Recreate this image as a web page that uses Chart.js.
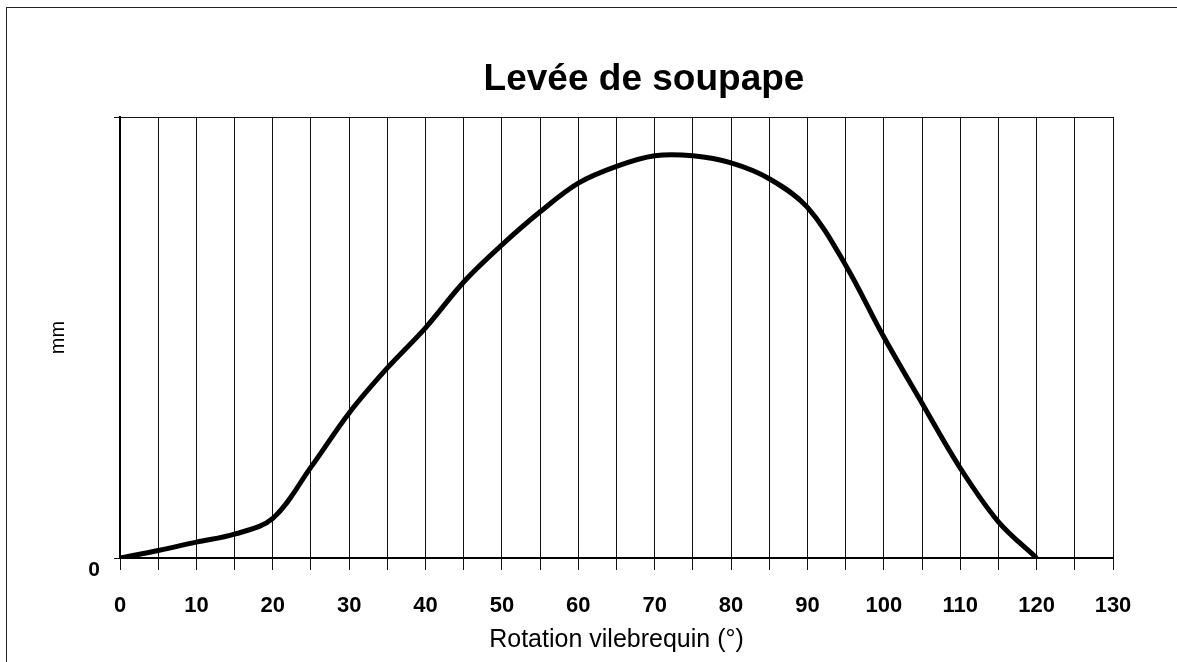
<!DOCTYPE html>
<html>
<head>
<meta charset="utf-8">
<script src="https://cdn.jsdelivr.net/npm/chart.js@4/dist/chart.umd.min.js"></script>
<style>
  html, body { margin: 0; padding: 0; background: #fff; }
  #wrap { position: relative; width: 1177px; height: 662px; }
  #frame {
    position: absolute; left: 6px; top: 7px; right: -10px; bottom: -10px;
    border-left: 1px solid #222; border-top: 1px solid #222; pointer-events: none;
  }
</style>
</head>
<body>
<div id="wrap">
  <canvas id="chart-lift" width="1177" height="662"></canvas>
  <div id="frame"></div>
</div>
<script>
// Rotation vilebrequin (deg) and valve lift (arbitrary mm scale)
const angles = [0, 5, 10, 15, 20, 25, 30, 35, 40, 45, 50, 55, 60, 65, 70, 75, 80, 85, 90, 95, 100, 105, 110, 115, 120]
const lift = [0, 0.17, 0.36, 0.54, 0.9, 2.06, 3.29, 4.31, 5.22, 6.26, 7.1, 7.85, 8.5, 8.88, 9.12, 9.12, 8.96, 8.6, 7.95, 6.64, 5.01, 3.51, 2.04, 0.82, 0]
const xLabels = [0, 10, 20, 30, 40, 50, 60, 70, 80, 90, 100, 110, 120, 130]

const chartTitle = 'Levée de soupape'
const fontFamily = '"Liberation Sans", Arial, sans-serif'

// title sits a bit right of the plot centre, like the original
const titlePlugin = {
  id: 'offsetTitle',
  afterDraw(chart) {
    const ctx = chart.ctx
    ctx.save()
    ctx.font = `bold 37px ${fontFamily}`
    ctx.fillStyle = '#000'
    ctx.textAlign = 'center'
    ctx.textBaseline = 'middle'
    ctx.fillText(chartTitle, 644, 80)
    ctx.restore()
  },
}

new Chart(document.getElementById('chart-lift'), {
  type: 'line',
  data: {
    datasets: [
      {
        label: 'Levée',
        data: angles.map((a, i) => ({ x: a, y: lift[i] })),
        borderColor: '#000',
        borderWidth: 5,
        pointRadius: 0,
        tension: 0.35,
        fill: false,
      },
    ],
  },
  options: {
    responsive: false,
    animation: false,
    layout: { padding: { left: 0, top: 117, right: 64, bottom: 0 } },
    plugins: {
      legend: { display: false },
      tooltip: { enabled: false },
    },
    scales: {
      x: {
        type: 'linear',
        min: 0,
        max: 130,
        afterFit: (scale) => { scale.height = 104 },
        ticks: {
          stepSize: 5,
          autoSkip: false,
          maxRotation: 0,
          padding: 23,
          color: '#000',
          font: { family: fontFamily, size: 22, weight: 'bold' },
          callback: (v) => (xLabels.includes(v) ? String(v) : ''),
        },
        grid: {
          color: '#111',
          lineWidth: 1,
          tickLength: 12,
        },
        border: { color: '#000', width: 2 },
        title: {
          display: true,
          text: 'Rotation vilebrequin (°)',
          color: '#000',
          font: { family: fontFamily, size: 25 },
          padding: { top: 0, bottom: 7 },
        },
      },
      y: {
        min: 0,
        max: 10,
        afterFit: (scale) => { scale.width = 120 },
        ticks: {
          stepSize: 10,
          padding: 14,
          labelOffset: 12,
          color: '#000',
          font: { family: fontFamily, size: 21, weight: 'bold' },
          callback: (v) => (v === 0 ? '0' : ''),
        },
        grid: {
          color: '#111',
          lineWidth: 1,
          tickLength: 6,
        },
        border: { color: '#000', width: 2 },
        title: {
          display: true,
          text: 'mm',
          color: '#000',
          font: { family: fontFamily, size: 20 },
          padding: { top: 46, bottom: 0 },
        },
      },
    },
  },
  plugins: [titlePlugin],
})
</script>
</body>
</html>
